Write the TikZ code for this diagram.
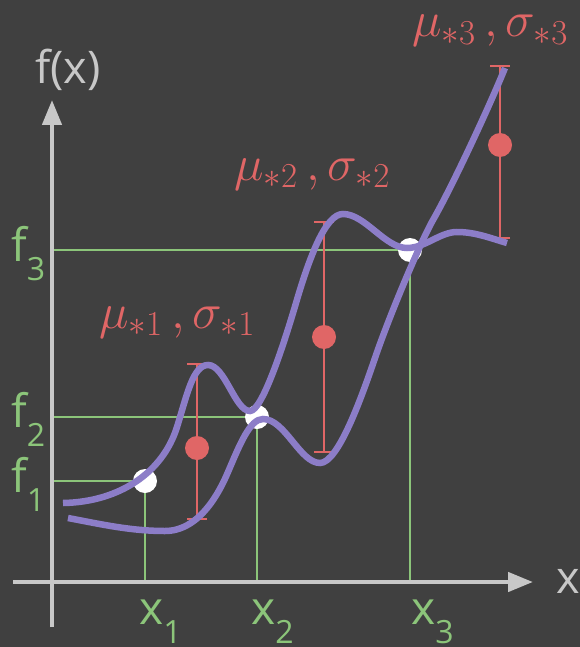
\RequirePackage{fix-cm}
\documentclass[tikz,border=0pt]{standalone}
\usepackage{fontspec}
\setmainfont{Open Sans}
\usepackage{xcolor}
\definecolor{BgGray}{HTML}{404040}
\definecolor{AxisGray}{HTML}{C8C8C8}
\definecolor{GuideGreen}{HTML}{8CC57A}
\definecolor{MeanRed}{HTML}{E06666}
\definecolor{CurvePurple}{HTML}{8C7DC8}
\usetikzlibrary{arrows.meta}
\newcommand{\lowidx}[1]{\raisebox{-19pt}[0pt][0pt]{\fontsize{32}{32}\selectfont #1}}

\begin{document}
\begin{tikzpicture}[x=1pt,y=-1pt, axis/.style={draw=AxisGray,line width=4.5pt,-{Triangle[length=25pt,width=19pt]}}, guide/.style={draw=GuideGreen,line width=2pt}, errbar/.style={draw=MeanRed,line width=2pt,{Bar[width=20pt]}-{Bar[width=20pt]}}, mean/.style={circle,fill=MeanRed,minimum size=24pt,inner sep=0pt}, obs/.style={circle,fill=white,minimum size=24pt,inner sep=0pt}, sample/.style={draw=CurvePurple,line width=6.5pt}, idx/.style={inner sep=0pt,anchor=base west,text=GuideGreen,font=\fontsize{46}{46}\selectfont}, axlbl/.style={inner sep=0pt,anchor=base west,text=AxisGray,font=\fontsize{45}{45}\selectfont}, stat/.style={inner sep=0pt,anchor=base,text=MeanRed,font=\fontsize{50}{50}\selectfont}]
\fill[BgGray] (0,0) rectangle (580,647);
\useasboundingbox (0,0) rectangle (580,647);
\coordinate (o) at (52,582);
\coordinate (xend) at (533,582);
\coordinate (yend) at (52,100);
% observed points
\coordinate (q1) at (145,481);
\coordinate (q2) at (257,417);
\coordinate (q3) at (410,250);
\draw[guide] (o |- q1) -- (q1) -- (q1 |- o);
\draw[guide] (o |- q2) -- (q2) -- (q2 |- o);
\draw[guide] (o |- q3) -- (q3) -- (q3 |- o);
\node[obs] (p1) at (q1) {};
\node[obs] (p2) at (q2) {};
\node[obs] (p3) at (q3) {};
% axes
\draw[axis] (13,582) -- (xend);
\draw[axis] (52,627) -- (yend);
\node[axlbl] (fx) at (35,84) {f(x)};
\node[axlbl] (xx) at (556,593) {x};
\node[idx] (x1) at (139,624) {x\lowidx{1}};
\node[idx] (x2) at (251,624) {x\lowidx{2}};
\node[idx] (x3) at (411,624) {x\lowidx{3}};
\node[idx] (f1) at (11,492) {f\lowidx{1}};
\node[idx] (f2) at (11,427) {f\lowidx{2}};
\node[idx] (f3) at (11,261) {f\lowidx{3}};
% predictions
\coordinate (t1) at (197,363); \coordinate (b1) at (197,520);
\coordinate (t2) at (324,221); \coordinate (b2) at (324,453);
\coordinate (t3) at (500,65);  \coordinate (b3) at (500,239);
\draw[errbar] (t1) -- (b1);
\draw[errbar] (t2) -- (b2);
\draw[errbar] (t3) -- (b3);
\node[mean] (m1) at (197,448) {};
\node[mean] (m2) at (324,337) {};
\node[mean] (m3) at (500,145) {};
\node[stat] (s1) at (177,328) {$\mu_{*1}\,,\sigma_{*1}$};
\node[stat] (s2) at (312,180) {$\mu_{*2}\,,\sigma_{*2}$};
\node[stat] (s3) at (490,37) {$\mu_{*3}\,,\sigma_{*3}$};
% samples
\draw[sample] (63,503) .. controls (120,502) and (163,472) .. (177,427)
  .. controls (187,395) and (193,365) .. (208,365)
  .. controls (225,365) and (235,411) .. (250,411)
  .. controls (262,411) and (283,347) .. (296,303)
  .. controls (310,255) and (326,214) .. (343,214)
  .. controls (365,214) and (385,248) .. (407,248)
  .. controls (425,248) and (440,232) .. (457,232)
  .. controls (475,232) and (490,238) .. (507,243);
\draw[sample] (68,518) .. controls (100,524) and (130,531) .. (165,531)
  .. controls (200,531) and (220,491) .. (228,472)
  .. controls (240,444) and (250,419) .. (263,419)
  .. controls (285,419) and (300,463) .. (320,463)
  .. controls (338,463) and (361,399) .. (375,358)
  .. controls (390,314) and (421,241) .. (433,220)
  .. controls (453,185) and (490,105) .. (505,68);
\end{tikzpicture}
\end{document}
